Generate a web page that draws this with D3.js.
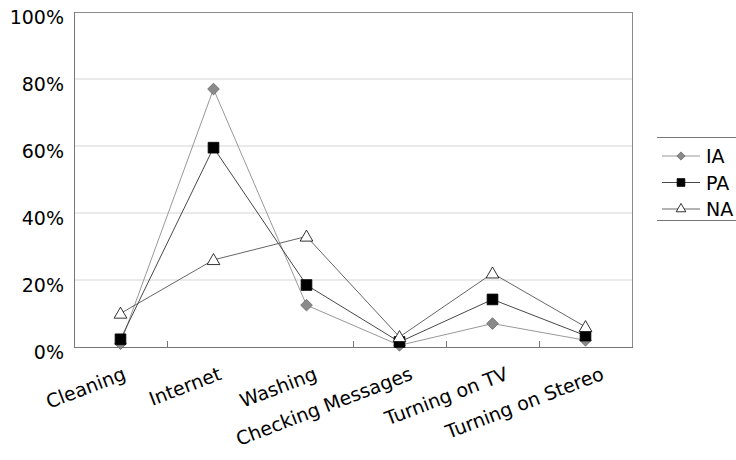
<!DOCTYPE html>
<html><head><meta charset="utf-8">
<script src="https://cdn.jsdelivr.net/npm/d3@7"></script>
<style>body{margin:0;background:#fff}svg{display:block}text{font-family:"DejaVu Sans",Verdana,sans-serif;fill:#000}</style>
</head><body><svg id="c" width="736" height="460"></svg>
<script>
const categories = ["Cleaning","Internet","Washing","Checking Messages","Turning on TV","Turning on Stereo"];
const seriesNames = ["IA","PA","NA"];
const IA = [1, 77, 12.5, 0.5, 7, 2];
const PA = [2.3, 59.5, 18.5, 1.5, 14.2, 3.4];
const NA = [10, 26, 33, 3, 22, 6];
const yTicks = [0, 20, 40, 60, 80, 100];
const series = [IA, PA, NA];

const svg = d3.select("#c");
const L = 74, R = 632, T = 12, B = 347;
const x = d3.scaleBand().domain(categories).range([L, R]);
const y = d3.scaleLinear().domain([0, 100]).range([B, T]);
const xl = d3.scalePoint().domain(categories).range([127, 605]);

// gridlines
svg.append("g").selectAll("line").data(yTicks.filter(v => v > 0 && v < 100)).join("line")
  .attr("x1", L).attr("x2", R).attr("y1", d => y(d)).attr("y2", d => y(d))
  .attr("stroke", "#d4d4d4").attr("stroke-width", 1);
// frame
svg.append("line").attr("x1", L).attr("x2", R).attr("y1", T + 0.5).attr("y2", T + 0.5).attr("stroke", "#8a8a8a");
svg.append("line").attr("x1", R + 0.5).attr("x2", R + 0.5).attr("y1", T).attr("y2", B).attr("stroke", "#8a8a8a");
svg.append("line").attr("x1", L + 0.5).attr("x2", L + 0.5).attr("y1", T).attr("y2", B + 1).attr("stroke", "#777");
svg.append("line").attr("x1", L).attr("x2", R + 1).attr("y1", B + 0.5).attr("y2", B + 0.5).attr("stroke", "#777");
// x ticks at band boundaries (reference shows these)
const bounds = [1, 3, 4, 5].map(k => L + x.step() * k);
svg.append("g").selectAll("line").data(bounds).join("line")
  .attr("x1", d => Math.round(d) + 0.5).attr("x2", d => Math.round(d) + 0.5)
  .attr("y1", B).attr("y2", B - 6).attr("stroke", "#777");

// y labels
svg.append("g").selectAll("text").data(yTicks).join("text")
  .attr("x", 64).attr("y", d => y(d) + 12).attr("text-anchor", "end")
  .attr("font-size", 19).text(d => d + "%");
// x labels
svg.append("g").selectAll("text").data(categories).join("text")
  .attr("transform", d => `translate(${xl(d)},379) rotate(-21)`)
  .attr("text-anchor", "end").attr("font-size", 19).text(d => d);

const styles = [
  {line: "#8c8c8c", sym: d3.symbolSquare, rot: 45, fill: "#8a8a8a", stroke: "#6a6a6a", size: 68, lsize: 34},
  {line: "#333", sym: d3.symbolSquare, rot: 0, fill: "#000", stroke: "#000", size: 115, lsize: 60},
  {line: "#555", sym: d3.symbolTriangle, rot: 0, fill: "#fff", stroke: "#000", size: 70, lsize: 40}
];
const cx = d => x(d) + x.bandwidth() / 2;
const line = d3.line().x((v, i) => cx(categories[i])).y(v => y(v));

series.forEach((s, k) => {
  const st = styles[k];
  svg.append("path").attr("d", line(s)).attr("fill", "none").attr("stroke", st.line).attr("stroke-width", 0.9);
});
series.forEach((s, k) => {
  const st = styles[k];
  svg.append("g").selectAll("path").data(s).join("path")
    .attr("transform", (v, i) => `translate(${cx(categories[i])},${y(v) + (k === 2 ? 1 : 0)}) rotate(${st.rot})`)
    .attr("d", d3.symbol(st.sym, st.size)).attr("fill", st.fill).attr("stroke", st.stroke).attr("stroke-width", 0.8);
});

// legend
const lg = svg.append("g");
lg.append("line").attr("x1", 657).attr("x2", 736).attr("y1", 137.5).attr("y2", 137.5).attr("stroke", "#777");
lg.append("line").attr("x1", 657).attr("x2", 736).attr("y1", 220.5).attr("y2", 220.5).attr("stroke", "#777");
seriesNames.forEach((n, k) => {
  const st = styles[k];
  const yy = 156 + k * 26.5;
  lg.append("line").attr("x1", 662).attr("x2", 700).attr("y1", yy).attr("y2", yy).attr("stroke", st.line).attr("stroke-width", 0.9);
  lg.append("path").attr("transform", `translate(681,${yy}) rotate(${st.rot})`).attr("d", d3.symbol(st.sym, st.lsize))
    .attr("fill", st.fill).attr("stroke", st.stroke).attr("stroke-width", 0.8);
  lg.append("text").attr("x", 706).attr("y", yy + 7).attr("font-size", 19).text(n);
});
</script></body></html>
